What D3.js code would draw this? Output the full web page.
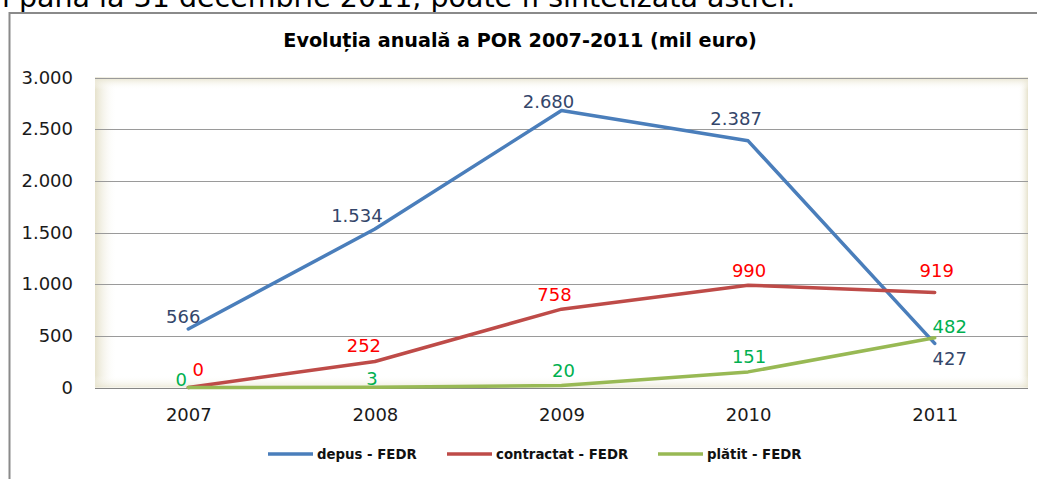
<!DOCTYPE html>
<html>
<head>
<meta charset="utf-8">
<script src="https://cdn.jsdelivr.net/npm/d3@7"></script>
<style>
    body { margin: 0; background: #fff; }
    svg { display: block; font-family: 'DejaVu Sans', Verdana, sans-serif; }
</style>
</head>
<body>
<div class="main_content"></div>
<script>
// Chart data
let years = ['2007', '2008', '2009', '2010', '2011'];
let depus = [566, 1534, 2680, 2387, 427];
let contractat = [0, 252, 758, 990, 919];
let platit = [0, 3, 20, 151, 482];
let seriesNames = ['depus - FEDR', 'contractat - FEDR', 'plătit - FEDR'];
let yTicks = [0, 500, 1000, 1500, 2000, 2500, 3000];

// Manual nudges of the data labels (dx, dy from the point), as in the original
let labelNudge = [
    [[-5, -6], [-18, -7], [-13, -3], [-12, -16], [15, 22]],
    [[10, -12], [-11, -9], [-7, -8], [1, -8], [2, -16]],
    [[-7, -2], [-3, -2], [2, -8], [1, -9], [15, -5]]
];

class LineChart {
    constructor() {
        this.width = 1037;
        this.height = 479;
        this.plot = {left: 95, top: 77.5, right: 1028, bottom: 387.5};
        this.lineColors = ['#4a7ebb', '#be4b48', '#98b954'];
        this.labelColors = ['#34466a', '#ff0000', '#00b050'];
    }

    render() {
        let svg = d3.select('.main_content').append('svg')
            .attr('width', this.width)
            .attr('height', this.height);
        let p = this.plot;

        // Text of the page above the chart (cut off by the crop, as in the original)
        svg.append('text')
            .attr('x', 2)
            .attr('y', 7)
            .attr('font-size', '28.5px')
            .attr('fill', '#000')
            .text('i până la 31 decembrie 2011, poate fi sintetizată astfel:');

        // Chart frame (only top and left edges are visible)
        svg.append('path')
            .attr('d', `M 9.5 ${this.height} V 13 H ${this.width}`)
            .style('fill', 'none')
            .style('stroke', '#8a8a8a')
            .style('stroke-width', 2);

        // Title
        svg.append('text')
            .attr('x', 520)
            .attr('y', 46.5)
            .attr('text-anchor', 'middle')
            .attr('font-size', '19.2px')
            .style('font-weight', 'bold')
            .text('Evoluția anuală a POR 2007-2011 (mil euro)');

        // Plot area with the soft beige edge shading
        let defs = svg.append('defs');
        let shades = [
            {id: 'shL', x1: 0, y1: 0, x2: 1, y2: 0},
            {id: 'shR', x1: 1, y1: 0, x2: 0, y2: 0},
            {id: 'shT', x1: 0, y1: 0, x2: 0, y2: 1},
            {id: 'shB', x1: 0, y1: 1, x2: 0, y2: 0}
        ];
        shades.forEach(s => {
            let g = defs.append('linearGradient').attr('id', s.id)
                .attr('x1', s.x1).attr('y1', s.y1).attr('x2', s.x2).attr('y2', s.y2);
            g.append('stop').attr('offset', 0).attr('stop-color', '#e6e2cc').attr('stop-opacity', 1);
            g.append('stop').attr('offset', 1).attr('stop-color', '#ffffff').attr('stop-opacity', 0);
        });
        svg.append('rect')
            .attr('x', p.left).attr('y', p.top)
            .attr('width', p.right - p.left).attr('height', p.bottom - p.top)
            .style('fill', '#fff');
        svg.append('rect').attr('x', p.left).attr('y', p.top)
            .attr('width', 22).attr('height', p.bottom - p.top).style('fill', 'url(#shL)');
        svg.append('rect').attr('x', p.right - 10).attr('y', p.top)
            .attr('width', 10).attr('height', p.bottom - p.top).style('fill', 'url(#shR)');
        svg.append('rect').attr('x', p.left).attr('y', p.top)
            .attr('width', p.right - p.left).attr('height', 12).style('fill', 'url(#shT)');
        svg.append('rect').attr('x', p.left).attr('y', p.bottom - 12)
            .attr('width', p.right - p.left).attr('height', 12).style('fill', 'url(#shB)')
            .style('opacity', 0.7);

        // Scales
        let x = d3.scalePoint()
            .domain(years)
            .range([p.left, p.right])
            .padding(0.5);
        let y = d3.scaleLinear()
            .domain([0, 3000])
            .range([p.bottom, p.top]);

        let locale = d3.formatLocale({decimal: ',', thousands: '.', grouping: [3], currency: ['', '']});
        let fmt = locale.format(',d');

        // Gridlines
        svg.append('g')
            .selectAll('line')
            .data(yTicks)
            .enter().append('line')
            .attr('x1', p.left)
            .attr('x2', p.right)
            .attr('y1', d => Math.round(y(d)) + 0.5)
            .attr('y2', d => Math.round(y(d)) + 0.5)
            .style('stroke', d => d === 0 ? '#868686' : '#9a9a9a')
            .style('stroke-width', 1);

        // Y axis
        let yAxis = svg.append('g')
            .attr('transform', `translate(${p.left},0)`)
            .call(d3.axisLeft(y).tickValues(yTicks).tickFormat(fmt).tickSize(0).tickPadding(22));
        yAxis.select('.domain').remove();
        yAxis.selectAll('text')
            .attr('font-size', '18px')
            .attr('font-family', 'DejaVu Sans')
            .attr('fill', '#1a1a1a');

        // X axis
        let xAxis = svg.append('g')
            .attr('transform', `translate(0,${p.bottom})`)
            .call(d3.axisBottom(x).tickSize(0).tickPadding(21));
        xAxis.select('.domain').remove();
        xAxis.selectAll('text')
            .attr('font-size', '18px')
            .attr('font-family', 'DejaVu Sans')
            .attr('fill', '#1a1a1a');

        // Lines
        let allSeries = [depus, contractat, platit];
        let line = d3.line()
            .x((d, i) => x(years[i]))
            .y(d => y(d));

        svg.append('g')
            .selectAll('path')
            .data(allSeries)
            .enter().append('path')
            .attr('d', d => line(d))
            .style('fill', 'none')
            .style('stroke', (d, i) => this.lineColors[i])
            .style('stroke-width', 3.5)
            .style('stroke-linejoin', 'round')
            .style('stroke-linecap', 'round');

        // Data labels
        allSeries.forEach((values, s) => {
            svg.append('g')
                .selectAll('text')
                .data(values)
                .enter().append('text')
                .attr('x', (d, i) => x(years[i]) + labelNudge[s][i][0])
                .attr('y', (d, i) => y(d) + labelNudge[s][i][1])
                .attr('text-anchor', 'middle')
                .attr('font-size', '18px')
                .attr('fill', this.labelColors[s])
                .text(d => fmt(d));
        });

        // Legend
        let legendX = [268, 447, 658];
        let legend = svg.append('g')
            .selectAll('g')
            .data(seriesNames)
            .enter().append('g')
            .attr('transform', (d, i) => 'translate(' + legendX[i] + ',454)');
        legend.append('line')
            .attr('x1', 0)
            .attr('x2', 45)
            .style('stroke', (d, i) => this.lineColors[i])
            .style('stroke-width', 3.5);
        legend.append('text')
            .attr('x', 49)
            .attr('dy', '.35em')
            .attr('font-size', '13.3px')
            .style('font-weight', 'bold')
            .attr('fill', '#111')
            .text(d => d);
    }
}

let chart = new LineChart();
chart.render();
</script>
</body>
</html>
